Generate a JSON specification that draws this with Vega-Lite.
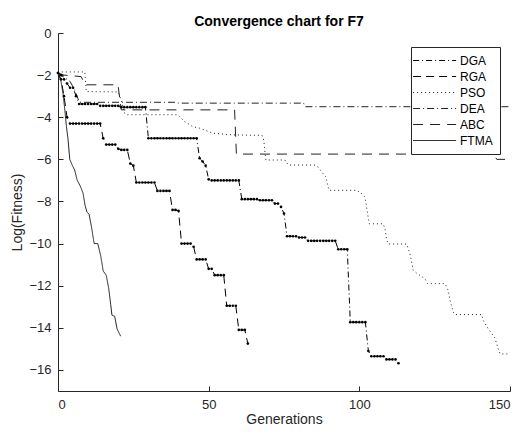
{
  "$schema": "https://vega.github.io/schema/vega-lite/v6.json",
  "autosize": {"type": "none"},
  "width": 452,
  "height": 358,
  "padding": {"left": 58, "top": 33, "right": 14, "bottom": 46},
  "background": "white",
  "title": {"text": "Convergence chart for F7", "font": "Liberation Sans", "fontSize": 14, "fontWeight": "bold", "color": "#000000", "anchor": "middle", "dx": -5, "offset": -2},
  "config": {
    "view": {"stroke": null},
    "axis": {"grid": false, "domainColor": "#262626", "tickColor": "#262626", "labelColor": "#262626", "titleColor": "#262626", "labelFont": "Liberation Sans", "titleFont": "Liberation Sans", "labelFontSize": 13, "titleFontSize": 14, "titleFontWeight": "normal", "tickSize": -5, "labelPadding": 12, "domainWidth": 1, "tickWidth": 1}
  },
  "data": {"values": [
    {"alg":"DGA","gen":0,"fit":-1.9},{"alg":"DGA","gen":1,"fit":-2.0},{"alg":"DGA","gen":2,"fit":-2.2},{"alg":"DGA","gen":3,"fit":-2.4},{"alg":"DGA","gen":4,"fit":-2.6},{"alg":"DGA","gen":5,"fit":-2.6},{"alg":"DGA","gen":6,"fit":-3.0},{"alg":"DGA","gen":7,"fit":-3.37},{"alg":"DGA","gen":8,"fit":-3.37},{"alg":"DGA","gen":9,"fit":-3.37},{"alg":"DGA","gen":10,"fit":-3.37},{"alg":"DGA","gen":11,"fit":-3.37},{"alg":"DGA","gen":12,"fit":-3.37},{"alg":"DGA","gen":13,"fit":-3.37},{"alg":"DGA","gen":14,"fit":-3.46},{"alg":"DGA","gen":15,"fit":-3.46},{"alg":"DGA","gen":16,"fit":-3.46},{"alg":"DGA","gen":17,"fit":-3.46},{"alg":"DGA","gen":18,"fit":-3.46},{"alg":"DGA","gen":19,"fit":-3.46},{"alg":"DGA","gen":20,"fit":-3.46},{"alg":"DGA","gen":21,"fit":-3.52},{"alg":"DGA","gen":22,"fit":-3.52},{"alg":"DGA","gen":23,"fit":-3.52},{"alg":"DGA","gen":24,"fit":-3.52},{"alg":"DGA","gen":25,"fit":-3.52},{"alg":"DGA","gen":26,"fit":-3.52},{"alg":"DGA","gen":27,"fit":-3.52},{"alg":"DGA","gen":28,"fit":-3.52},{"alg":"DGA","gen":29,"fit":-3.52},{"alg":"DGA","gen":30,"fit":-5.0},{"alg":"DGA","gen":31,"fit":-5.0},{"alg":"DGA","gen":32,"fit":-5.0},{"alg":"DGA","gen":33,"fit":-5.0},{"alg":"DGA","gen":34,"fit":-5.0},{"alg":"DGA","gen":35,"fit":-5.0},{"alg":"DGA","gen":36,"fit":-5.0},{"alg":"DGA","gen":37,"fit":-5.0},{"alg":"DGA","gen":38,"fit":-5.0},{"alg":"DGA","gen":39,"fit":-5.0},{"alg":"DGA","gen":40,"fit":-5.0},{"alg":"DGA","gen":41,"fit":-5.0},{"alg":"DGA","gen":42,"fit":-5.0},{"alg":"DGA","gen":43,"fit":-5.0},{"alg":"DGA","gen":44,"fit":-5.0},{"alg":"DGA","gen":45,"fit":-5.0},{"alg":"DGA","gen":46,"fit":-5.0},{"alg":"DGA","gen":47,"fit":-5.95},{"alg":"DGA","gen":48,"fit":-6.1},{"alg":"DGA","gen":49,"fit":-6.3},{"alg":"DGA","gen":50,"fit":-6.95},{"alg":"DGA","gen":51,"fit":-7.0},{"alg":"DGA","gen":52,"fit":-7.0},{"alg":"DGA","gen":53,"fit":-7.0},{"alg":"DGA","gen":54,"fit":-7.0},{"alg":"DGA","gen":55,"fit":-7.0},{"alg":"DGA","gen":56,"fit":-7.0},{"alg":"DGA","gen":57,"fit":-7.0},{"alg":"DGA","gen":58,"fit":-7.0},{"alg":"DGA","gen":59,"fit":-7.0},{"alg":"DGA","gen":60,"fit":-7.0},{"alg":"DGA","gen":61,"fit":-7.89},{"alg":"DGA","gen":62,"fit":-7.89},{"alg":"DGA","gen":63,"fit":-7.89},{"alg":"DGA","gen":64,"fit":-7.89},{"alg":"DGA","gen":65,"fit":-7.89},{"alg":"DGA","gen":66,"fit":-7.89},{"alg":"DGA","gen":67,"fit":-7.94},{"alg":"DGA","gen":68,"fit":-7.94},{"alg":"DGA","gen":69,"fit":-7.94},{"alg":"DGA","gen":70,"fit":-7.94},{"alg":"DGA","gen":71,"fit":-7.94},{"alg":"DGA","gen":72,"fit":-8.1},{"alg":"DGA","gen":73,"fit":-8.1},{"alg":"DGA","gen":74,"fit":-8.26},{"alg":"DGA","gen":75,"fit":-8.57},{"alg":"DGA","gen":76,"fit":-9.65},{"alg":"DGA","gen":77,"fit":-9.65},{"alg":"DGA","gen":78,"fit":-9.65},{"alg":"DGA","gen":79,"fit":-9.65},{"alg":"DGA","gen":80,"fit":-9.71},{"alg":"DGA","gen":81,"fit":-9.71},{"alg":"DGA","gen":82,"fit":-9.71},{"alg":"DGA","gen":83,"fit":-9.87},{"alg":"DGA","gen":84,"fit":-9.87},{"alg":"DGA","gen":85,"fit":-9.87},{"alg":"DGA","gen":86,"fit":-9.87},{"alg":"DGA","gen":87,"fit":-9.87},{"alg":"DGA","gen":88,"fit":-9.87},{"alg":"DGA","gen":89,"fit":-9.87},{"alg":"DGA","gen":90,"fit":-9.87},{"alg":"DGA","gen":91,"fit":-9.87},{"alg":"DGA","gen":92,"fit":-9.87},{"alg":"DGA","gen":93,"fit":-10.27},{"alg":"DGA","gen":94,"fit":-10.27},{"alg":"DGA","gen":95,"fit":-10.27},{"alg":"DGA","gen":96,"fit":-10.27},{"alg":"DGA","gen":97,"fit":-13.73},{"alg":"DGA","gen":98,"fit":-13.73},{"alg":"DGA","gen":99,"fit":-13.73},{"alg":"DGA","gen":100,"fit":-13.73},{"alg":"DGA","gen":101,"fit":-13.73},{"alg":"DGA","gen":102,"fit":-13.73},{"alg":"DGA","gen":103,"fit":-15.1},{"alg":"DGA","gen":104,"fit":-15.35},{"alg":"DGA","gen":105,"fit":-15.35},{"alg":"DGA","gen":106,"fit":-15.35},{"alg":"DGA","gen":107,"fit":-15.35},{"alg":"DGA","gen":108,"fit":-15.35},{"alg":"DGA","gen":109,"fit":-15.5},{"alg":"DGA","gen":110,"fit":-15.5},{"alg":"DGA","gen":111,"fit":-15.5},{"alg":"DGA","gen":112,"fit":-15.5},{"alg":"DGA","gen":113,"fit":-15.68},
    {"alg":"RGA","gen":0,"fit":-1.9},{"alg":"RGA","gen":1,"fit":-2.2},{"alg":"RGA","gen":2,"fit":-3.0},{"alg":"RGA","gen":3,"fit":-4.0},{"alg":"RGA","gen":4,"fit":-4.3},{"alg":"RGA","gen":5,"fit":-4.3},{"alg":"RGA","gen":6,"fit":-4.3},{"alg":"RGA","gen":7,"fit":-4.3},{"alg":"RGA","gen":8,"fit":-4.3},{"alg":"RGA","gen":9,"fit":-4.3},{"alg":"RGA","gen":10,"fit":-4.3},{"alg":"RGA","gen":11,"fit":-4.3},{"alg":"RGA","gen":12,"fit":-4.3},{"alg":"RGA","gen":13,"fit":-4.3},{"alg":"RGA","gen":14,"fit":-4.3},{"alg":"RGA","gen":15,"fit":-5.0},{"alg":"RGA","gen":16,"fit":-5.3},{"alg":"RGA","gen":17,"fit":-5.3},{"alg":"RGA","gen":18,"fit":-5.3},{"alg":"RGA","gen":19,"fit":-5.3},{"alg":"RGA","gen":20,"fit":-5.5},{"alg":"RGA","gen":21,"fit":-5.55},{"alg":"RGA","gen":22,"fit":-5.55},{"alg":"RGA","gen":23,"fit":-5.55},{"alg":"RGA","gen":24,"fit":-6.2},{"alg":"RGA","gen":25,"fit":-6.3},{"alg":"RGA","gen":26,"fit":-7.1},{"alg":"RGA","gen":27,"fit":-7.1},{"alg":"RGA","gen":28,"fit":-7.1},{"alg":"RGA","gen":29,"fit":-7.1},{"alg":"RGA","gen":30,"fit":-7.1},{"alg":"RGA","gen":31,"fit":-7.1},{"alg":"RGA","gen":32,"fit":-7.1},{"alg":"RGA","gen":33,"fit":-7.5},{"alg":"RGA","gen":34,"fit":-7.5},{"alg":"RGA","gen":35,"fit":-7.5},{"alg":"RGA","gen":36,"fit":-7.5},{"alg":"RGA","gen":37,"fit":-7.5},{"alg":"RGA","gen":38,"fit":-8.4},{"alg":"RGA","gen":39,"fit":-8.4},{"alg":"RGA","gen":40,"fit":-8.45},{"alg":"RGA","gen":41,"fit":-10.0},{"alg":"RGA","gen":42,"fit":-10.0},{"alg":"RGA","gen":43,"fit":-10.0},{"alg":"RGA","gen":44,"fit":-10.0},{"alg":"RGA","gen":45,"fit":-10.15},{"alg":"RGA","gen":46,"fit":-10.75},{"alg":"RGA","gen":47,"fit":-10.75},{"alg":"RGA","gen":48,"fit":-10.75},{"alg":"RGA","gen":49,"fit":-10.75},{"alg":"RGA","gen":50,"fit":-11.2},{"alg":"RGA","gen":51,"fit":-11.2},{"alg":"RGA","gen":52,"fit":-11.5},{"alg":"RGA","gen":53,"fit":-11.5},{"alg":"RGA","gen":54,"fit":-11.5},{"alg":"RGA","gen":55,"fit":-11.5},{"alg":"RGA","gen":56,"fit":-12.95},{"alg":"RGA","gen":57,"fit":-12.95},{"alg":"RGA","gen":58,"fit":-12.95},{"alg":"RGA","gen":59,"fit":-12.95},{"alg":"RGA","gen":60,"fit":-14.1},{"alg":"RGA","gen":61,"fit":-14.1},{"alg":"RGA","gen":62,"fit":-14.1},{"alg":"RGA","gen":63,"fit":-14.75},
    {"alg":"PSO","gen":0,"fit":-1.9},{"alg":"PSO","gen":1,"fit":-1.85},{"alg":"PSO","gen":8.9,"fit":-1.85},{"alg":"PSO","gen":9.4,"fit":-2.78},{"alg":"PSO","gen":19.9,"fit":-2.8},{"alg":"PSO","gen":21,"fit":-3.18},{"alg":"PSO","gen":22.1,"fit":-3.81},{"alg":"PSO","gen":22.7,"fit":-3.88},{"alg":"PSO","gen":39.8,"fit":-3.88},{"alg":"PSO","gen":42,"fit":-4.21},{"alg":"PSO","gen":44.8,"fit":-4.45},{"alg":"PSO","gen":47,"fit":-4.52},{"alg":"PSO","gen":51.5,"fit":-4.76},{"alg":"PSO","gen":58.1,"fit":-4.84},{"alg":"PSO","gen":67.7,"fit":-4.86},{"alg":"PSO","gen":68.3,"fit":-5.1},{"alg":"PSO","gen":68.7,"fit":-5.7},{"alg":"PSO","gen":69,"fit":-6.03},{"alg":"PSO","gen":75.3,"fit":-6.03},{"alg":"PSO","gen":76.4,"fit":-6.27},{"alg":"PSO","gen":85.3,"fit":-6.27},{"alg":"PSO","gen":86.4,"fit":-6.38},{"alg":"PSO","gen":87.5,"fit":-6.59},{"alg":"PSO","gen":88.9,"fit":-6.83},{"alg":"PSO","gen":89.5,"fit":-7.22},{"alg":"PSO","gen":90,"fit":-7.47},{"alg":"PSO","gen":99.1,"fit":-7.47},{"alg":"PSO","gen":100.5,"fit":-7.59},{"alg":"PSO","gen":101.9,"fit":-7.8},{"alg":"PSO","gen":102.4,"fit":-8.26},{"alg":"PSO","gen":103,"fit":-8.81},{"alg":"PSO","gen":103.3,"fit":-9.06},{"alg":"PSO","gen":107.9,"fit":-9.06},{"alg":"PSO","gen":108.5,"fit":-9.29},{"alg":"PSO","gen":109.1,"fit":-9.84},{"alg":"PSO","gen":109.6,"fit":-10.02},{"alg":"PSO","gen":115.7,"fit":-10.02},{"alg":"PSO","gen":116.8,"fit":-10.48},{"alg":"PSO","gen":117.9,"fit":-11.27},{"alg":"PSO","gen":119,"fit":-11.4},{"alg":"PSO","gen":121.8,"fit":-11.67},{"alg":"PSO","gen":122.6,"fit":-11.9},{"alg":"PSO","gen":128.4,"fit":-11.9},{"alg":"PSO","gen":129.5,"fit":-12.22},{"alg":"PSO","gen":130.1,"fit":-12.7},{"alg":"PSO","gen":131.2,"fit":-13.26},{"alg":"PSO","gen":131.7,"fit":-13.37},{"alg":"PSO","gen":140.6,"fit":-13.37},{"alg":"PSO","gen":141.1,"fit":-13.65},{"alg":"PSO","gen":142.8,"fit":-14.05},{"alg":"PSO","gen":145,"fit":-14.48},{"alg":"PSO","gen":145.9,"fit":-14.92},{"alg":"PSO","gen":146.7,"fit":-15.24},{"alg":"PSO","gen":150,"fit":-15.24},
    {"alg":"DEA","gen":0,"fit":-1.9},{"alg":"DEA","gen":2,"fit":-2.1},{"alg":"DEA","gen":4,"fit":-2.3},{"alg":"DEA","gen":5.5,"fit":-2.7},{"alg":"DEA","gen":6.6,"fit":-3.1},{"alg":"DEA","gen":7.2,"fit":-3.29},{"alg":"DEA","gen":39.5,"fit":-3.29},{"alg":"DEA","gen":40,"fit":-3.33},{"alg":"DEA","gen":81.5,"fit":-3.33},{"alg":"DEA","gen":82,"fit":-3.5},{"alg":"DEA","gen":150,"fit":-3.5},
    {"alg":"ABC","gen":0,"fit":-1.9},{"alg":"ABC","gen":2,"fit":-2.0},{"alg":"ABC","gen":7.7,"fit":-2.07},{"alg":"ABC","gen":9,"fit":-2.46},{"alg":"ABC","gen":19.9,"fit":-2.46},{"alg":"ABC","gen":21,"fit":-3.65},{"alg":"ABC","gen":58.6,"fit":-3.65},{"alg":"ABC","gen":59.2,"fit":-5.75},{"alg":"ABC","gen":144.5,"fit":-5.75},{"alg":"ABC","gen":145.6,"fit":-6.0},{"alg":"ABC","gen":150,"fit":-6.0},
    {"alg":"FTMA","gen":0,"fit":-1.9},{"alg":"FTMA","gen":1,"fit":-2.3},{"alg":"FTMA","gen":1.7,"fit":-2.9},{"alg":"FTMA","gen":2.3,"fit":-3.7},{"alg":"FTMA","gen":2.8,"fit":-4.45},{"alg":"FTMA","gen":3.3,"fit":-5.0},{"alg":"FTMA","gen":3.9,"fit":-6.0},{"alg":"FTMA","gen":4.8,"fit":-6.3},{"alg":"FTMA","gen":5.5,"fit":-6.5},{"alg":"FTMA","gen":6.4,"fit":-7.0},{"alg":"FTMA","gen":7.5,"fit":-7.3},{"alg":"FTMA","gen":8.3,"fit":-7.6},{"alg":"FTMA","gen":9.0,"fit":-8.2},{"alg":"FTMA","gen":9.6,"fit":-8.5},{"alg":"FTMA","gen":10.3,"fit":-8.6},{"alg":"FTMA","gen":11.1,"fit":-9.2},{"alg":"FTMA","gen":12,"fit":-10.0},{"alg":"FTMA","gen":13.2,"fit":-10.0},{"alg":"FTMA","gen":14.2,"fit":-10.6},{"alg":"FTMA","gen":15.0,"fit":-11.3},{"alg":"FTMA","gen":16.0,"fit":-11.5},{"alg":"FTMA","gen":16.8,"fit":-12.1},{"alg":"FTMA","gen":17.5,"fit":-12.9},{"alg":"FTMA","gen":17.9,"fit":-13.4},{"alg":"FTMA","gen":18.8,"fit":-13.45},{"alg":"FTMA","gen":19.6,"fit":-14.05},{"alg":"FTMA","gen":20.8,"fit":-14.4}
  ]},
  "encoding": {
    "x": {"field": "gen", "type": "quantitative", "scale": {"domain": [0, 150], "nice": false, "zero": false}, "axis": {"title": "Generations", "values": [0, 50, 100, 150], "titlePadding": 1}},
    "y": {"field": "fit", "type": "quantitative", "scale": {"domain": [-17, 0], "nice": false, "zero": false}, "axis": {"title": "Log(Fitness)", "values": [0, -2, -4, -6, -8, -10, -12, -14, -16], "titlePadding": 4}}
  },
  "layer": [
    {
      "mark": {"type": "line", "strokeWidth": 1, "clip": true},
      "encoding": {
        "color": {"field": "alg", "type": "nominal", "scale": {"domain": ["DGA", "RGA", "PSO", "DEA", "ABC", "FTMA"], "range": ["#000000", "#000000", "#222222", "#222222", "#222222", "#222222"]},
          "legend": {"title": null, "orient": "none", "legendX": 353, "legendY": 14, "strokeColor": "#262626", "fillColor": "#ffffff", "padding": 7, "cornerRadius": 0, "labelFont": "Liberation Sans", "labelFontSize": 12, "labelColor": "#000000", "symbolType": "M-1.9,0H5.27", "symbolSize": 144, "symbolStrokeWidth": 1, "labelOffset": 29, "rowPadding": 3}},
        "strokeDash": {"field": "alg", "type": "nominal", "scale": {"domain": ["DGA", "RGA", "PSO", "DEA", "ABC", "FTMA"], "range": [[6, 3, 1, 3], [8, 5], [1, 3], [7, 3, 1, 3], [10, 7], [1, 0]]},
          "legend": {"title": null, "orient": "none", "legendX": 353, "legendY": 14, "strokeColor": "#262626", "fillColor": "#ffffff", "padding": 7, "cornerRadius": 0, "labelFont": "Liberation Sans", "labelFontSize": 12, "labelColor": "#000000", "symbolType": "M-1.9,0H5.27", "symbolSize": 144, "symbolStrokeWidth": 1, "labelOffset": 29, "rowPadding": 3}}
      }
    },
    {
      "transform": [{"filter": "datum.alg === 'DGA' || datum.alg === 'RGA'"}],
      "mark": {"type": "point", "filled": true, "shape": "circle", "size": 7, "color": "#000000", "opacity": 1}
    }
  ]
}
